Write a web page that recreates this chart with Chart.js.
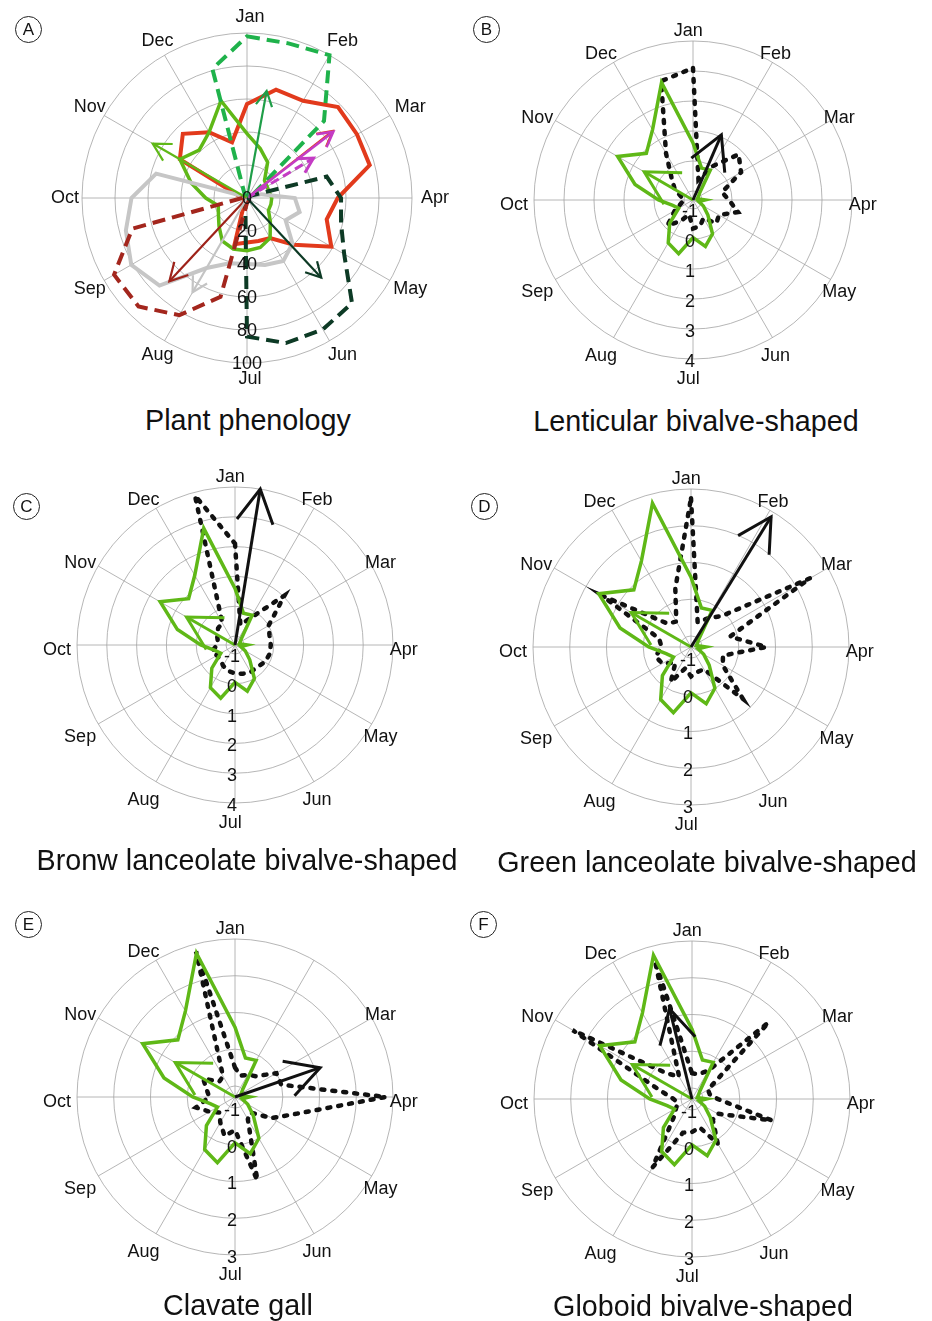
<!DOCTYPE html>
<html>
<head>
<meta charset="utf-8">
<script src="https://cdn.jsdelivr.net/npm/chart.js@4.4.1/dist/chart.umd.min.js"></script>
<style>
  html, body { margin: 0; padding: 0; background: #fff; }
  body { width: 932px; height: 1321px; position: relative; overflow: hidden; font-family: "Liberation Sans", Arial, sans-serif; color: #111; }
  canvas { position: absolute; }
  .tag { position: absolute; width: 25px; height: 25px; border: 1px solid #222; border-radius: 50%; font-size: 17px; line-height: 25px; text-align: center; }
  .title { position: absolute; font-size: 28.7px; line-height: 32px; white-space: nowrap; transform: translateX(-50%); }
</style>
</head>
<body>
<canvas id="cA" width="440" height="400" style="left:27px;top:-2px"></canvas>
<canvas id="cB" width="440" height="400" style="left:473px;top:0px"></canvas>
<canvas id="cC" width="440" height="400" style="left:15px;top:445px"></canvas>
<canvas id="cD" width="440" height="400" style="left:471px;top:447px"></canvas>
<canvas id="cE" width="440" height="400" style="left:15px;top:897px"></canvas>
<canvas id="cF" width="440" height="400" style="left:472px;top:899px"></canvas>

<div class="tag" style="left:15px;top:16px">A</div>
<div class="tag" style="left:473px;top:16px">B</div>
<div class="tag" style="left:13px;top:493px">C</div>
<div class="tag" style="left:471px;top:493px">D</div>
<div class="tag" style="left:15px;top:911px">E</div>
<div class="tag" style="left:470px;top:911px">F</div>

<div class="title" style="left:248px;top:404px">Plant phenology</div>
<div class="title" style="left:696px;top:405px">Lenticular bivalve-shaped</div>
<div class="title" style="left:247px;top:844px">Bronw lanceolate bivalve-shaped</div>
<div class="title" style="left:707px;top:846px">Green lanceolate bivalve-shaped</div>
<div class="title" style="left:238px;top:1289px">Clavate gall</div>
<div class="title" style="left:703px;top:1290px">Globoid bivalve-shaped</div>

<script>
// months, Jan on top, clockwise; each month split in two halves -> 24 spokes
const MONTHS = ["Jan", "Feb", "Mar", "Apr", "May", "Jun", "Jul", "Aug", "Sep", "Oct", "Nov", "Dec"];

// ---- panel A: plant phenology (%) ----
const ticksA = [0, 20, 40, 60, 80, 100];
const redA = [57, 68, 68, 78, 77, 77, 55, 50, 59, 40, 28, 27, 27, 29, 3, 2, 2, 2, 2, 5, 47, 55, 46, 35];
const limeA = [39, 31, 25, 15, 14, 14, 15, 15, 15, 20, 28, 31, 32, 32, 30, 24, 20, 18, 25, 35, 47, 41, 46, 61];
const grayA = [0, 0, 0, 0, 0, 9, 29, 33, 27, 39, 44, 42, 40, 41, 49, 75, 81, 76, 70, 57, 2, 0, 0, 0];
const greenDashA = [98, 97, 100, 66, 4, 0, 0, 0, 0, 0, 0, 0, 0, 0, 0, 0, 0, 0, 0, 0, 0, 0, 3, 81];
const darkGreenDashA = [0, 0, 0, 0, 3, 50, 57, 59, 68, 90, 92, 91, 84, 4, 0, 0, 0, 0, 0, 0, 0, 0, 0, 0];
const darkRedDashA = [0, 0, 0, 0, 0, 0, 0, 0, 0, 0, 0, 0, 3, 62, 82, 93, 93, 72, 3, 0, 0, 0, 0, 0];
// mean vectors: direction in degrees, length in %
const arrowDegA = [52, 52.5, 59, 10.4, 300, 223, 210, 137];
const arrowValA = [66, 66, 47, 66, 66, 69, 66, 66];

// ---- panels B-F: log abundance ----
const ticksBC = [-1, 0, 1, 2, 3, 4];
const ticksDF = [-1, 0, 1, 2, 3];
const limeLog = [0.6, -0.2, -0.15, -1.0, -1.1, -1.15, -0.9, -1.1, -0.9, -0.6, 0.0, 0.3, -0.05, 0.55, 0.35, -0.2, -0.75, -0.6, -0.15, 0.7, 1.6, 0.9, 1.4, 2.75];
const dottedB = [3.1, -0.6, 0.0, 0.85, 0.55, -0.3, -0.1, 0.25, -0.3, -0.2, -0.6, -0.4, -0.35, -0.8, -0.5, -0.1, -0.6, -0.9, -1.0, -0.9, -0.6, -0.3, 0.5, 2.8];
const dottedC = [2.1, -0.6, -0.25, 1.05, 0.0, -0.1, -0.1, -0.1, -0.15, -0.25, -0.25, -0.3, -0.35, -0.4, -0.5, -0.6, -0.6, -0.5, -0.7, -0.7, -0.6, -0.5, -0.45, 3.89];
const dottedD = [2.75, -0.6, -0.4, -0.1, 2.45, -0.2, 0.75, -0.4, -0.3, 0.7, -0.6, -0.6, -0.5, -0.7, -0.2, -0.7, -0.4, -0.3, -0.5, -0.4, 1.5, -0.4, -0.5, 0.35];
const dottedE = [-0.5, -0.7, -0.6, -0.5, 0.0, 0.0, 2.8, 0.45, -0.15, -0.7, -0.6, 1.05, -0.4, -0.2, -0.5, -0.7, -0.5, -0.2, -0.6, -0.5, -0.3, -0.7, -0.65, 2.8];
const dottedF = [-0.6, -0.6, -0.4, 1.65, -0.8, -0.8, -0.6, 0.95, -0.5, -0.5, 0.1, -0.5, -0.4, -0.35, 0.85, -0.6, -0.8, -0.9, -0.8, -0.4, 2.45, -0.3, -0.6, 2.6];
const blackArrowDeg = [23.5, 9.2, 31.6, 71, 346];
const blackArrowVal = [1.07, 4.0, 2.86, 1.15, 1.23];
const limeArrowDeg = 300;
const limeArrowVal = 0.58;

const LABELS = [];
MONTHS.forEach(m => { LABELS.push(m); LABELS.push(""); });

const GRID = "#a3a3a3";
const FONT = '18px "Liberation Sans", Arial, sans-serif';
const LIME = "#5fb817";

function drawArrow(ctx, scale, deg, value, st) {
    const tip = scale.getPointPosition(deg / 15, scale.getDistanceFromCenterForValue(value));
    const x0 = scale.xCenter, y0 = scale.yCenter;
    const a = Math.atan2(tip.y - y0, tip.x - x0);
    ctx.save();
    ctx.strokeStyle = st.color;
    ctx.lineWidth = st.width;
    ctx.lineJoin = "miter";
    ctx.setLineDash(st.dash || []);
    ctx.beginPath();
    ctx.moveTo(x0, y0);
    ctx.lineTo(tip.x, tip.y);
    ctx.stroke();
    ctx.setLineDash([]);
    ctx.beginPath();
    ctx.moveTo(tip.x - st.head * Math.cos(a - 0.5), tip.y - st.head * Math.sin(a - 0.5));
    ctx.lineTo(tip.x, tip.y);
    ctx.lineTo(tip.x - st.head * Math.cos(a + 0.5), tip.y - st.head * Math.sin(a + 0.5));
    ctx.stroke();
    ctx.restore();
}

const polarDecor = {
    id: "polarDecor",
    afterDatasetsDraw(chart, args, opts) {
        const scale = chart.scales.r;
        const ctx = chart.ctx;
        (opts.arrows || []).forEach(ar => drawArrow(ctx, scale, ar.deg, ar.value, ar.style));

        ctx.save();
        ctx.font = FONT;
        ctx.fillStyle = "#111";
        ctx.textAlign = "center";
        ctx.textBaseline = "middle";
        // month names
        MONTHS.forEach((m, i) => {
            if ((opts.hide || []).includes(m)) return;
            const px = scale.getPointPosition(i * 2, scale.drawingArea + opts.gapX).x;
            const py = scale.getPointPosition(i * 2, scale.drawingArea + opts.gapY).y;
            ctx.fillText(m, px + opts.labelDx, py + opts.labelDy);
        });
        // radial tick labels, drawn down the Jul spoke
        opts.ticks.forEach(v => {
            const y = scale.yCenter + scale.getDistanceFromCenterForValue(v) + opts.tickDy;
            ctx.fillText(String(v), scale.xCenter + opts.tickDx, y);
        });
        ctx.restore();
    }
};

function makeChart(id, radius, min, max, tickVals, datasets, decor) {
    const padX = (440 - 2 * radius) / 2;
    const padY = (400 - 2 * radius) / 2;
    return new Chart(document.getElementById(id), {
        type: "radar",
        data: { labels: LABELS, datasets: datasets },
        options: {
            responsive: false,
            animation: false,
            devicePixelRatio: 1,
            layout: { padding: { left: padX, right: padX, top: padY, bottom: padY } },
            elements: {
                point: { radius: 0, hoverRadius: 0 },
                line: { tension: 0, fill: false }
            },
            plugins: {
                legend: { display: false },
                tooltip: { enabled: false },
                polarDecor: Object.assign({ ticks: tickVals }, decor)
            },
            scales: {
                r: {
                    min: min,
                    max: max,
                    startAngle: 0,
                    grid: { circular: true, color: GRID, lineWidth: 0.8 },
                    angleLines: {
                        color: GRID,
                        lineWidth: c => (c.index % 2 ? 0 : 0.8)
                    },
                    pointLabels: { display: false },
                    ticks: { display: false },
                    afterBuildTicks: s => { s.ticks = tickVals.map(v => ({ value: v })); }
                }
            }
        },
        plugins: [polarDecor]
    });
}

// ---------- A ----------
const dashA = [13, 7];
const arrowStyleA = [
    { color: "#e23a1c", width: 2.2, head: 17 },
    { color: "#c43cc4", width: 2.5, head: 17 },
    { color: "#c43cc4", width: 3, head: 17, dash: [9, 5] },
    { color: "#1f9e48", width: 2.2, head: 17 },
    { color: "#5fb817", width: 2.2, head: 20 },
    { color: "#9e2219", width: 2.2, head: 20 },
    { color: "#c4c4c4", width: 2.2, head: 17 },
    { color: "#0d3a25", width: 2.2, head: 17 }
];
makeChart("cA", 165, 0, 100, ticksA, [
    { data: darkRedDashA, borderColor: "#a3261d", borderWidth: 4, borderDash: dashA },
    { data: darkGreenDashA, borderColor: "#0d3a25", borderWidth: 4, borderDash: dashA },
    { data: greenDashA, borderColor: "#1fb24b", borderWidth: 4, borderDash: dashA },
    { data: grayA, borderColor: "#c6c6c6", borderWidth: 4 },
    { data: limeA, borderColor: LIME, borderWidth: 3.5 },
    { data: redA, borderColor: "#e23a1c", borderWidth: 4 }
], {
    arrows: arrowDegA.map((d, i) => ({ deg: d, value: arrowValA[i], style: arrowStyleA[i] })),
    gapX: 20, gapY: 16.3, labelDx: 3, labelDy: 0, tickDx: 0, tickDy: 1
});

// ---------- B-F ----------
const logPanels = [
    { id: "cB", radius: 159, max: 4, ticks: ticksBC, dotted: dottedB, hide: [] },
    { id: "cC", radius: 158, max: 4, ticks: ticksBC, dotted: dottedC, hide: [] },
    { id: "cD", radius: 158, max: 3, ticks: ticksDF, dotted: dottedD, hide: [] },
    { id: "cE", radius: 158, max: 3, ticks: ticksDF, dotted: dottedE, hide: ["Feb"] },
    { id: "cF", radius: 158, max: 3, ticks: ticksDF, dotted: dottedF, hide: [] }
];
logPanels.forEach((p, i) => {
    makeChart(p.id, p.radius, -1.3, p.max, p.ticks, [
        { data: limeLog, borderColor: LIME, borderWidth: 3.5 },
        { data: p.dotted, borderColor: "#111", borderWidth: 4.5, borderDash: [3, 8], borderCapStyle: "round" }
    ], {
        arrows: [
            { deg: limeArrowDeg, value: limeArrowVal, style: { color: LIME, width: 3, head: 38 } },
            { deg: blackArrowDeg[i], value: blackArrowVal[i], style: { color: "#111", width: 3, head: 38 } }
        ],
        hide: p.hide,
        gapX: 15.4, gapY: 15.4, labelDx: -4.7, labelDy: 5, tickDx: -3, tickDy: 3
    });
});
</script>
</body>
</html>
